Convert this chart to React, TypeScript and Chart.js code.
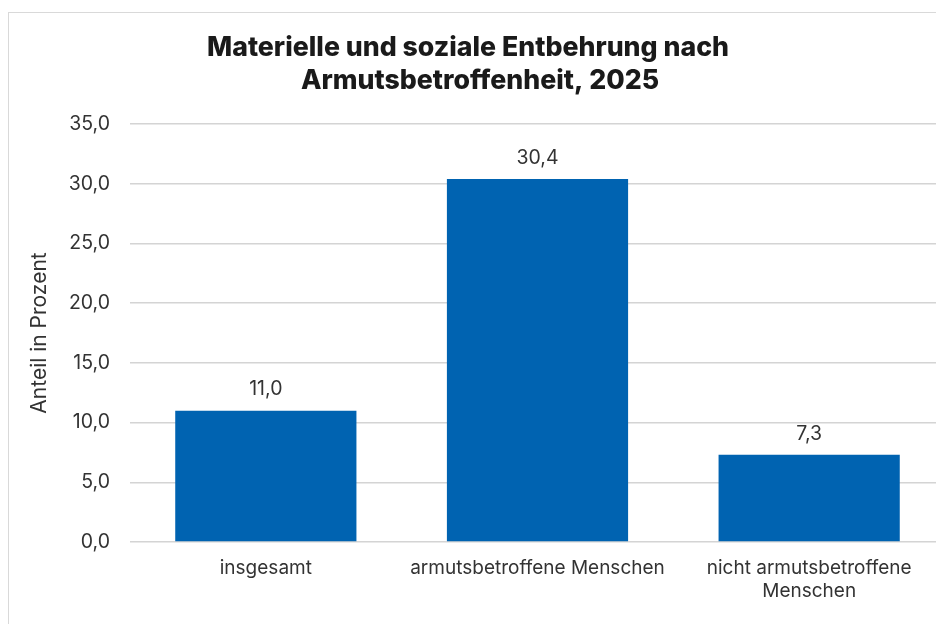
import React, { useEffect, useRef } from "react";
import { Chart, registerables } from "chart.js";

Chart.register(...registerables);

const categories: (string | string[])[] = [
  "insgesamt",
  "armutsbetroffene Menschen",
  ["nicht armutsbetroffene", "Menschen"],
];
const values: number[] = [11.0, 30.4, 7.3];
const titleLines: string[] = [
  "Materielle und soziale Entbehrung nach",
  "Armutsbetroffenheit, 2025",
];
const yAxisTitle = "Anteil in Prozent";
const yMin = 0;
const yMax = 35;
const yStep = 5;

const fmt = (v: number) => v.toFixed(1).replace(".", ",");

const FONT = "Inter, 'Noto Sans', sans-serif";
const TEXT = "#333333";
const BAR = "#0063B1";

const W = 948;
const H = 615;

export default function App() {
  const ref = useRef<HTMLCanvasElement | null>(null);

  useEffect(() => {
    document.documentElement.style.overflow = "hidden";
    document.body.style.overflow = "hidden";
    const canvas = ref.current;
    if (!canvas) return;

    const titlePlugin = {
      id: "customTitle",
      afterDraw(chart: any) {
        const ctx = chart.ctx;
        ctx.save();
        ctx.fillStyle = "#1a1a1a";
        ctx.font = `800 26.7px ${FONT}`;
        ctx.textAlign = "center";
        ctx.textBaseline = "middle";
        ctx.fillText(titleLines[0], 459, 35);
        ctx.fillText(titleLines[1], 471, 68);
        ctx.restore();
      },
    };

    const labelPlugin = {
      id: "valueLabels",
      afterDatasetsDraw(chart: any) {
        const ctx = chart.ctx;
        const meta = chart.getDatasetMeta(0);
        ctx.save();
        ctx.fillStyle = TEXT;
        ctx.font = `19.5px ${FONT}`;
        ctx.textAlign = "center";
        ctx.textBaseline = "middle";
        meta.data.forEach((bar: any, i: number) => {
          ctx.fillText(fmt(values[i]), bar.x, bar.y - 21);
        });
        ctx.restore();
      },
    };

    const chart = new Chart(canvas, {
      type: "bar",
      data: {
        labels: categories,
        datasets: [
          {
            data: values,
            backgroundColor: BAR,
            borderWidth: 0,
            categoryPercentage: 1.0,
            barPercentage: 0.667,
          },
        ],
      },
      options: {
        responsive: false,
        animation: false,
        devicePixelRatio: 1,
        layout: { padding: { top: 111, right: 12, bottom: 0, left: 0 } },
        plugins: {
          legend: { display: false },
          title: { display: false },
          tooltip: { enabled: false },
        },
        scales: {
          x: {
            grid: { display: false, drawTicks: false },
            border: { display: false },
            ticks: {
              color: TEXT,
              font: { family: FONT, size: 19, lineHeight: 1.22 },
              padding: 15,
              maxRotation: 0,
              autoSkip: false,
            },
            afterFit(scale: any) {
              scale.height = H - 529;
            },
          },
          y: {
            min: yMin,
            max: yMax,
            grid: { color: "#d4d4d4", lineWidth: 1.5, drawTicks: false },
            border: { display: false },
            ticks: {
              stepSize: yStep,
              color: TEXT,
              font: { family: FONT, size: 19.5 },
              padding: 20,
              callback: (v: any) => fmt(Number(v)),
            },
            title: {
              display: true,
              text: yAxisTitle,
              color: TEXT,
              font: { family: FONT, size: 21 },
              padding: { top: 18, bottom: 0 },
            },
            afterFit(scale: any) {
              scale.width = 121;
            },
          },
        },
      },
      plugins: [titlePlugin, labelPlugin],
    });

    return () => chart.destroy();
  }, []);

  return (
    <div
      style={{
        position: "absolute",
        left: 8,
        top: 12,
        width: W + 2,
        height: 640,
        border: "1px solid #d9d9d9",
        background: "#fff",
      }}
    >
      <canvas ref={ref} width={W} height={H} style={{ display: "block", width: W, height: H }} />
    </div>
  );
}
